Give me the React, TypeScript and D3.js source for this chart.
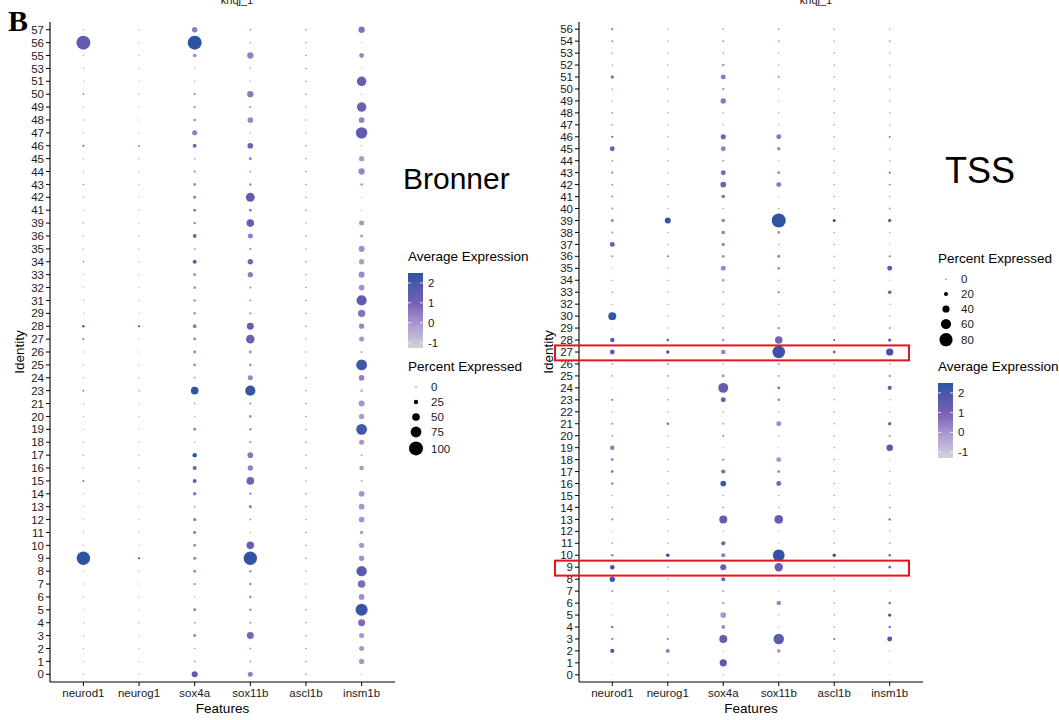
import React from 'react';
import * as d3 from 'd3';

const FONT = '"Liberation Sans", Arial, Helvetica, sans-serif';

const genes = ['neurod1', 'neurog1', 'sox4a', 'sox11b', 'ascl1b', 'insm1b'];

// Bronner: identities, top to bottom
const bronnerIds = ['57', '56', '55', '53', '51', '50', '49', '48', '47', '46', '45', '44', '43', '42', '41', '39', '36', '35', '34', '33', '32', '31', '29', '28', '27', '26', '25', '24', '23', '21', '20', '19', '18', '17', '16', '15', '14', '13', '12', '11', '10', '9', '8', '7', '6', '5', '4', '3', '2', '1', '0'];

const bNeurod1Pct = [2, 100, 2, 1, 1, 4, 1, 2, 1, 8, 2, 1, 3, 2, 1, 2, 1, 1, 3, 1, 1, 1, 1, 9, 5, 1, 1, 1, 5, 1, 1, 1, 1, 2, 1, 6, 1, 1, 1, 1, 2, 95, 1, 1, 1, 1, 1, 1, 1, 1, 1];
const bNeurod1Exp = [-0.3, 1.4, -0.3, -0.3, -0.3, 0.6, -0.3, -0.3, -0.3, 1.0, -0.3, -0.3, 0.6, -0.3, -0.3, -0.3, -0.3, -0.3, 0.8, -0.3, -0.3, -0.3, -0.3, 2.3, 1.8, -0.3, -0.3, -0.3, 0.8, -0.3, -0.3, -0.3, -0.3, 0, -0.3, 0.8, -0.3, -0.3, -0.3, -0.3, 0, 2.5, -0.3, -0.3, -0.3, -0.3, -0.3, -0.3, -0.3, -0.3, -0.3];
const bNeurog1Pct = [1, 1, 1, 1, 1, 1, 1, 1, 1, 4, 1, 1, 1, 1, 1, 1, 1, 1, 1, 1, 1, 1, 1, 7, 1, 1, 1, 1, 2, 1, 1, 1, 1, 1, 1, 1, 1, 1, 1, 1, 1, 7, 1, 1, 1, 1, 1, 1, 1, 1, 1];
const bNeurog1Exp = [-0.3, -0.3, -0.3, -0.3, -0.3, -0.3, -0.3, -0.3, -0.3, 1.8, -0.3, -0.3, -0.3, -0.3, -0.3, -0.3, -0.3, -0.3, -0.3, -0.3, -0.3, -0.3, -0.3, 2.5, -0.3, -0.3, -0.3, -0.3, 0.3, -0.3, -0.3, -0.3, -0.3, -0.3, -0.3, -0.3, -0.3, -0.3, -0.3, -0.3, -0.3, 2.5, -0.3, -0.3, -0.3, -0.3, -0.3, -0.3, -0.3, -0.3, -0.3];
const bSox4aPct = [33, 100, 18, 2, 2, 8, 8, 10, 30, 20, 4, 8, 12, 14, 14, 10, 20, 5, 22, 12, 12, 10, 10, 20, 14, 14, 12, 6, 50, 5, 3, 14, 3, 25, 22, 22, 18, 5, 16, 14, 12, 16, 14, 8, 3, 14, 5, 14, 4, 5, 38];
const bSox4aExp = [0.5, 2.5, 0.3, -0.5, -0.5, 0.2, 0.2, 0.3, 0.5, 1.0, -0.2, 0.2, 0.3, 0.5, 0.5, 0.3, 1.3, 0, 1.4, 0.3, 0.2, 0.2, 0.2, 0.5, 0.3, 0.3, 0.3, 0, 2.4, 0, -0.3, 0.4, -0.3, 2.3, 1.2, 1.4, 0.6, 0, 0.6, 0.6, 0.5, 0.3, 0.3, 0.2, -0.3, 0.4, 0, 0.4, -0.2, 0, 1.5];
const bSox11bPct = [5, 3, 40, 3, 3, 40, 8, 35, 3, 35, 15, 5, 10, 60, 14, 50, 30, 8, 32, 32, 8, 6, 8, 45, 58, 14, 12, 30, 70, 8, 12, 10, 8, 35, 32, 50, 10, 16, 6, 3, 50, 95, 10, 10, 12, 10, 7, 45, 6, 6, 30];
const bSox11bExp = [0, -0.3, 0.4, -0.3, -0.3, 0.5, 0, 0.3, -0.3, 1.0, 0.2, 0, 0.4, 1.5, 0.3, 1.3, 0.4, 0.2, 1.0, 0.5, 0.1, 0, 0.1, 1.3, 1.2, 0.2, 0.2, 0.3, 2.3, 0.1, 0.2, 0.1, 0, 0.6, 0.4, 1.1, 0.2, 0.3, 0, -0.3, 1.3, 2.4, 0.2, 0.2, 0.2, 0.2, 0, 0.9, 0, 0, 0.4];
const bAscl1bPct = [1.5, 1.5, 1.5, 1.5, 1.5, 1.5, 1.5, 1.5, 1.5, 1.5, 1.5, 1.5, 1.5, 1.5, 1.5, 1.5, 1.5, 1.5, 1.5, 1.5, 1.5, 1.5, 1.5, 1.5, 1.5, 1.5, 1.5, 1.5, 1.5, 1.5, 1.5, 1.5, 1.5, 1.5, 1.5, 1.5, 1.5, 1.5, 1.5, 1.5, 1.5, 1.5, 1.5, 1.5, 1.5, 1.5, 1.5, 1.5, 1.5, 1.5, 1.5];
const bAscl1bExp: (number | null)[] = bronnerIds.map(() => null); // no variance -> NA colour
const bInsm1bPct = [40, 2, 28, 1, 65, 2, 65, 35, 80, 3, 32, 40, 10, 2, 2, 30, 14, 38, 32, 38, 35, 70, 48, 32, 30, 6, 75, 35, 10, 38, 32, 75, 30, 6, 26, 5, 36, 36, 36, 18, 32, 32, 72, 50, 35, 85, 45, 30, 30, 32, 1];
const bInsm1bExp = [0.7, -0.5, 0.3, -0.8, 1.3, -0.5, 1.1, 0.4, 1.5, -0.3, -0.1, 0.3, 0, -0.8, -0.8, 0, 0, 0.1, -0.1, 0.2, 0.1, 1.4, 0.7, 0.3, 0, -0.3, 2.1, 0.4, -0.2, 0, -0.1, 2.1, 0, -0.3, 0, -0.3, 0, 0, 0, -0.1, 0, 0.1, 1.6, 0.8, 0.2, 2.3, 0.8, 0, 0, 0, -0.8];

// TSS: identities, top to bottom
const tssIds = ['56', '54', '53', '52', '51', '50', '49', '48', '47', '46', '45', '44', '43', '42', '41', '40', '39', '38', '37', '36', '35', '34', '33', '32', '30', '29', '28', '27', '26', '25', '24', '23', '22', '21', '20', '19', '18', '17', '16', '15', '14', '13', '12', '11', '10', '9', '8', '7', '6', '5', '4', '3', '2', '1', '0'];

const tNeurod1Pct = [6, 5, 3, 2, 14, 3, 2, 4, 3, 7, 25, 3, 6, 5, 5, 5, 10, 5, 25, 5, 1, 2, 3, 2, 45, 1, 22, 24, 3, 3, 1, 7, 2, 5, 3, 22, 12, 8, 8, 2, 3, 6, 1, 3, 10, 22, 28, 5, 1, 1, 10, 8, 20, 1, 1];
const tNeurod1Exp = [0.6, 0.3, 0.2, 0, 0.8, 0.2, 0, 0.3, 0.2, 0.8, 1.2, 0.2, 0.5, 0.3, 0.3, 0.3, 1.0, 0.3, 1.4, 0.3, -0.5, 0, 0.2, 0, 2.3, -0.5, 1.5, 1.5, 0.2, 0.2, -0.5, 0.6, 0, 0.3, 0.2, 0.5, 0.2, 1.6, 0.5, 0, 0.2, 0.3, -0.5, 0.2, 0.3, 2.2, 2.2, 0.3, -0.5, -0.5, 0.5, 0.2, 2.0, -0.5, -0.5];
const tNeurog1Pct = [2, 2, 2, 2, 2, 2, 2, 2, 2, 2, 2, 2, 2, 2, 2, 2, 32, 2, 2, 5, 2, 2, 2, 2, 2, 2, 10, 14, 4, 4, 2, 3, 2, 9, 2, 2, 2, 2, 2, 2, 2, 2, 2, 2, 16, 3, 2, 2, 2, 2, 2, 5, 18, 2, 2];
const tNeurog1Exp = [0, 0, 0, 0, 0, 0, 0, 0, 0, 0, 0, 0, 0, 0, 0, 0, 2.4, 0, 0, 0.8, 0, 0, 0, 0, 0, 0, 1.2, 2.3, 0.3, 0.3, 0, 0.3, 0, 0.8, 0, 0, 0, 0, 0, 0, 0, 0, 0, 0, 2.4, 0.5, 0, 0, 0, 0, 0, 0.8, 0.6, 0, 0];
const tSox4aPct = [3, 4, 3, 8, 25, 7, 28, 2, 2, 26, 25, 5, 25, 30, 16, 3, 16, 16, 14, 10, 25, 8, 4, 3, 3, 5, 10, 22, 3, 10, 58, 25, 3, 4, 5, 1, 8, 20, 30, 3, 4, 45, 2, 20, 20, 32, 18, 4, 8, 30, 18, 45, 1, 40, 2];
const tSox4aExp = [0, 0.2, 0, 0.2, 0.5, 0.2, 0.6, 0, 0, 1.1, 0.4, 0, 0.9, 1.1, 0.7, 0, 0.3, 0.4, 0.4, 0.4, 0.3, 0.2, 0, 0, 0, 0, 0, 0.4, 0, 0.3, 1.4, 1.2, 0, 0, 0.2, -0.5, 0.2, 0.8, 2.1, 0, 0, 1.4, -0.3, 1.1, 0.4, 1.3, 1.2, 0, 0, 0, 0.2, 1.4, -0.5, 1.6, -0.3];
const tSox11bPct = [3, 3, 2, 2, 5, 2, 1, 2, 2, 25, 14, 1, 10, 25, 1, 2, 85, 10, 2, 12, 10, 2, 6, 2, 2, 8, 42, 75, 4, 4, 12, 10, 2, 25, 2, 1, 25, 10, 25, 2, 2, 50, 1, 1, 70, 48, 1, 1, 22, 1, 1, 62, 16, 1, 1];
const tSox11bExp = [0.2, 0.2, 0, 0, 0.4, 0, -0.5, 0, 0, 0.6, 0.4, -0.5, 0.3, 0.6, -0.5, 0, 2.4, 0.3, 0, 0.4, 0.2, 0, 0.8, 0, 0, 0.3, 1.0, 2.3, 0.2, 0.2, 0.6, 0.4, 0, 0.2, 0, -0.5, 0, 0.5, 0.9, 0, 0, 1.4, -0.5, -0.5, 2.4, 1.4, -0.5, -0.5, 0.3, -0.5, -0.5, 1.6, 0, -0.5, -0.5];
const tAscl1bPct = [2, 2, 2, 2, 2, 2, 2, 2, 2, 2, 2, 2, 2, 2, 2, 2, 12, 2, 2, 2, 2, 2, 2, 2, 2, 2, 6, 9, 2, 2, 2, 2, 2, 2, 2, 2, 2, 2, 2, 2, 2, 2, 2, 2, 14, 2, 2, 2, 2, 2, 2, 4, 2, 2, 2];
const tAscl1bExp = [0.2, 0.2, 0.2, 0.2, 0.2, 0.2, 0.2, 0.2, 0.2, 0.2, 0.2, 0.2, 0.2, 0.2, 0.2, 0.2, 2.4, 0.2, 0.2, 0.2, 0.2, 0.2, 0.2, 0.2, 0.2, 0.2, 2.2, 2.3, 0.2, 0.2, 0.2, 0.2, 0.2, 0.2, 0.2, 0.2, 0.2, 0.2, 0.2, 0.2, 0.2, 0.2, 0.2, 0.2, 2.4, 0.2, 0.2, 0.2, 0.2, 0.2, 0.2, 1.8, 0.2, 0.2, 0.2];
const tInsm1bPct = [2, 3, 2, 2, 2, 2, 2, 2, 2, 5, 2, 2, 6, 5, 2, 4, 14, 2, 1, 5, 25, 1, 16, 2, 2, 5, 14, 40, 2, 6, 20, 2, 2, 14, 5, 35, 1, 2, 2, 2, 4, 8, 2, 3, 8, 10, 1, 1, 10, 14, 10, 25, 1, 1, 1];
const tInsm1bExp = [0, 0.2, 0, 0, 0, 0, 0, 0, 0, 0.7, 0, 0, 0.8, 0.6, 0, 0.3, 1.5, 0, -0.5, 0.8, 1.5, -0.5, 1.2, 0, 0, 0.3, 1.4, 2.2, 0, 0.5, 1.4, 0, 0, 1.2, 0.3, 1.8, -0.5, 0, 0, 0, 0.3, 0.8, 0, 0.2, 1.0, 1.0, -0.5, -0.5, 0.6, 2.3, 0.6, 1.9, -0.5, -0.5, -0.5];

const pctBreaksBronner = [0, 25, 50, 75, 100];
const pctBreaksTss = [0, 20, 40, 60, 80];
const expTicks = [-1, 0, 1, 2];
const highlightIds = ['27', '9'];

type Dot = { id: string; gene: string; pct: number; exp: number | null };

function buildDots(ids: string[], pcts: number[][], exps: (number | null)[][]): Dot[] {
  const out: Dot[] = [];
  genes.forEach((g, gi) => {
    ids.forEach((id, i) => out.push({ id, gene: g, pct: pcts[gi][i], exp: exps[gi][i] }));
  });
  return out;
}

const bronnerDots = buildDots(
  bronnerIds,
  [bNeurod1Pct, bNeurog1Pct, bSox4aPct, bSox11bPct, bAscl1bPct, bInsm1bPct],
  [bNeurod1Exp, bNeurog1Exp, bSox4aExp, bSox11bExp, bAscl1bExp, bInsm1bExp]
);
const tssDots = buildDots(
  tssIds,
  [tNeurod1Pct, tNeurog1Pct, tSox4aPct, tSox11bPct, tAscl1bPct, tInsm1bPct],
  [tNeurod1Exp, tNeurog1Exp, tSox4aExp, tSox11bExp, tAscl1bExp, tInsm1bExp]
);

// lightgrey -> blue, through violet
const color = d3.scaleLinear<string>()
  .domain([-1.3, 0, 1, 2.5])
  .range(['#d3d3d8', '#a994cf', '#7461b5', '#2b53a3'])
  .interpolate(d3.interpolateLab)
  .clamp(true);
const NA_COLOR = '#7f7f7f';

function DotPanel(props: {
  ids: string[]; dots: Dot[]; x0: number; x1: number; y0: number; y1: number;
  pctMax: number; title: string; titleX: number; boxes?: string[];
}) {
  const { ids, dots, x0, x1, y0, y1, pctMax, title, titleX, boxes } = props;
  const x = d3.scalePoint().domain(genes).range([x0, x1]).padding(0.6);
  const y = d3.scalePoint().domain(ids).range([y0, y1]).padding(0.6);
  const r = d3.scaleLinear().domain([0, pctMax]).range([0.6, 7]);
  const step = y.step();

  return (
    <g fontFamily={FONT}>
      <text x={titleX} y={4} fontSize={11} textAnchor="middle" fill="#222">{title}</text>
      {dots.map((d, i) => (
        <circle key={i} cx={x(d.gene)} cy={y(d.id)} r={r(d.pct)}
          fill={d.exp == null ? NA_COLOR : color(d.exp)} />
      ))}
      {/* y axis */}
      <line x1={x0} x2={x0} y1={y0} y2={y1} stroke="#000" strokeWidth={1.1} />
      {ids.map(id => (
        <g key={id} transform={`translate(0,${y(id)})`}>
          <line x1={x0 - 4} x2={x0} stroke="#000" strokeWidth={1} />
          <text x={x0 - 6} dy="0.36em" fontSize={11.5} textAnchor="end" fill="#1a1a1a">{id}</text>
        </g>
      ))}
      {/* x axis */}
      <line x1={x0} x2={x1} y1={y1} y2={y1} stroke="#000" strokeWidth={1.1} />
      {genes.map(g => (
        <g key={g} transform={`translate(${x(g)},${y1})`}>
          <line y1={0} y2={4} stroke="#000" strokeWidth={1} />
          <text y={15} fontSize={11.5} textAnchor="middle" fill="#1a1a1a">{g}</text>
        </g>
      ))}
      <text x={(x0 + x1) / 2} y={713} fontSize={13.5} textAnchor="middle" fill="#000">Features</text>
      <text transform={`translate(${x0 - 26},${(y0 + y1) / 2}) rotate(-90)`} fontSize={13.5}
        textAnchor="middle" fill="#000">Identity</text>
      {boxes && boxes.map(id => (
        <rect key={id} x={x0 - 24} y={(y(id) as number) - step * 0.55} width={x1 - x0 + 10}
          height={step * 1.25} fill="none" stroke="#e3141b" strokeWidth={2} />
      ))}
    </g>
  );
}

function ColorLegend({ x, y, lo, hi, id }: { x: number; y: number; lo: number; hi: number; id: string }) {
  const barTop = y + 8;
  const barH = 75;
  const v = d3.scaleLinear().domain([lo, hi]).range([barTop + barH, barTop]);
  const stops = d3.range(0, 1.0001, 0.05);
  return (
    <g fontFamily={FONT}>
      <defs>
        <linearGradient id={id} x1="0" x2="0" y1="1" y2="0">
          {stops.map(s => <stop key={s} offset={s} stopColor={color(lo + s * (hi - lo))} />)}
        </linearGradient>
      </defs>
      <text x={x} y={y - 4} fontSize={13.5} fill="#000">Average Expression</text>
      <rect x={x} y={barTop} width={15} height={barH} fill={`url(#${id})`} />
      {expTicks.map(t => (
        <g key={t}>
          <line x1={x} x2={x + 3} y1={v(t)} y2={v(t)} stroke="#fff" strokeWidth={0.8} />
          <line x1={x + 12} x2={x + 15} y1={v(t)} y2={v(t)} stroke="#fff" strokeWidth={0.8} />
          <text x={x + 20} y={v(t)} dy="0.36em" fontSize={11.5} fill="#1a1a1a">{t}</text>
        </g>
      ))}
    </g>
  );
}

function SizeLegend({ x, y, breaks, pctMax }: { x: number; y: number; breaks: number[]; pctMax: number }) {
  const r = d3.scaleLinear().domain([0, pctMax]).range([0.6, 7]);
  const ys: number[] = [];
  breaks.forEach((b, i) => {
    if (i === 0) ys.push(y + 16);
    else ys.push(ys[i - 1] + Math.max(15, r(breaks[i - 1]) + r(b) + 4));
  });
  return (
    <g fontFamily={FONT}>
      <text x={x} y={y} fontSize={13.5} fill="#000">Percent Expressed</text>
      {breaks.map((b, i) => (
        <g key={b}>
          <circle cx={x + 8} cy={ys[i]} r={r(b)} fill="#000" />
          <text x={x + 23} y={ys[i]} dy="0.36em" fontSize={11.5} fill="#1a1a1a">{b}</text>
        </g>
      ))}
    </g>
  );
}

export default function App() {
  return (
    <svg width={1059} height={720} style={{ position: 'absolute', left: 0, top: 0, background: '#fff' }}>
      <rect width={1059} height={720} fill="#fff" />
      <text x={8} y={31} fontFamily='"Liberation Serif", "Times New Roman", serif' fontSize={30} fontWeight="bold">B</text>

      <DotPanel ids={bronnerIds} dots={bronnerDots} x0={50} x1={395} y0={22} y1={682}
        pctMax={100} title="knqj_1" titleX={237} />
      <text x={403} y={189} fontFamily={FONT} fontSize={30}>Bronner</text>
      <ColorLegend x={408} y={265} lo={-1.27} hi={2.5} id="gradB" />
      <SizeLegend x={408} y={371} breaks={pctBreaksBronner} pctMax={100} />

      <DotPanel ids={tssIds} dots={tssDots} x0={579} x1={923} y0={22} y1={682}
        pctMax={85} title="knqj_1" titleX={816} boxes={highlightIds} />
      <text x={945} y={183} fontFamily={FONT} fontSize={36}>TSS</text>
      <SizeLegend x={938} y={263} breaks={pctBreaksTss} pctMax={85} />
      <ColorLegend x={938} y={375} lo={-1.3} hi={2.5} id="gradT" />
    </svg>
  );
}
